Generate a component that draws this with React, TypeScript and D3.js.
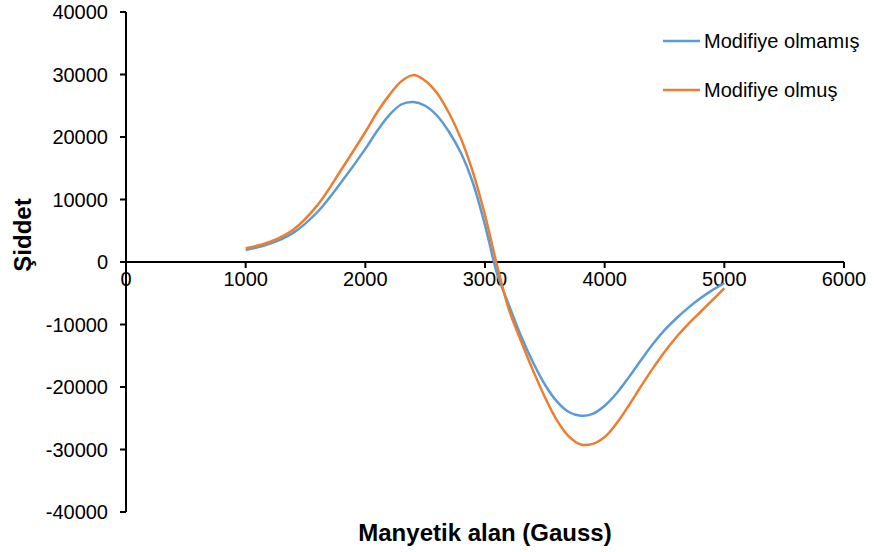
import React from "react";
import * as d3 from "d3";

const fieldG = [1000, 1200, 1400, 1600, 1800, 2000, 2100, 2200, 2300, 2400, 2500, 2600, 2700, 2800, 2900, 3000, 3100, 3200, 3300, 3400, 3500, 3600, 3700, 3800, 3900, 4000, 4100, 4200, 4300, 4400, 4500, 4600, 4700, 4800, 4900, 5000];
const unmodified = [1900, 2900, 4700, 8000, 12800, 18100, 21000, 23500, 25200, 25600, 25000, 23400, 20800, 17400, 12600, 5900, -1800, -6900, -11800, -16000, -19600, -22300, -24000, -24600, -24300, -23000, -21000, -18500, -15800, -13200, -10900, -9000, -7300, -5800, -4500, -3400];
const modified = [2200, 3200, 5200, 9100, 14800, 20800, 24000, 26700, 28900, 29900, 29000, 27000, 23800, 19700, 14300, 7500, -500, -7600, -12600, -17300, -21600, -25300, -27900, -29200, -29100, -28000, -25800, -23000, -20000, -17100, -14400, -12000, -9900, -8000, -6100, -4200];
const xTicks = [0, 1000, 2000, 3000, 4000, 5000, 6000];
const yTicks = [-40000, -30000, -20000, -10000, 0, 10000, 20000, 30000, 40000];
const seriesNames = ["Modifiye olmamış", "Modifiye olmuş"];
const colors = ["#5B9BD5", "#ED7D31"];

export default function App() {
  const W = 874, H = 552;
  const x = d3.scaleLinear().domain([0, 6000]).range([126, 844]);
  const y = d3.scaleLinear().domain([-40000, 40000]).range([512, 12]);
  const line = d3
    .line<[number, number]>()
    .x((d) => x(d[0]))
    .y((d) => y(d[1]))
    .curve(d3.curveCatmullRom.alpha(0.5));
  const series = [unmodified, modified].map((vals) => fieldG.map((g, i) => [g, vals[i]] as [number, number]));
  const font = "Arial, 'Liberation Sans', sans-serif";
  return (
    <svg width={W} height={H} style={{ position: "absolute", left: 0, top: 0, background: "#fff" }} fontFamily={font}>
      <line x1={x(0)} x2={x(0)} y1={y(40000)} y2={y(-40000)} stroke="#000" strokeWidth={2} />
      {yTicks.map((t) => (
        <g key={t}>
          <line x1={x(0) - 6} x2={x(0)} y1={y(t)} y2={y(t)} stroke="#000" strokeWidth={2} />
          <text x={108} y={y(t)} dy="0.35em" textAnchor="end" fontSize={20} fill="#000">
            {t}
          </text>
        </g>
      ))}
      <line x1={x(0)} x2={x(6000)} y1={y(0)} y2={y(0)} stroke="#000" strokeWidth={2} />
      {xTicks.map((t) => (
        <g key={t}>
          <line x1={x(t)} x2={x(t)} y1={y(0)} y2={y(0) + 6} stroke="#000" strokeWidth={2} />
          <text x={x(t)} y={286} textAnchor="middle" fontSize={20} fill="#000">
            {t}
          </text>
        </g>
      ))}
      {series.map((s, i) => (
        <path key={i} d={line(s) || ""} fill="none" stroke={colors[i]} strokeWidth={2.5} />
      ))}
      {seriesNames.map((n, i) => (
        <g key={n} transform={`translate(0, ${41 + i * 49})`}>
          <line x1={663} x2={700} y1={0} y2={0} stroke={colors[i]} strokeWidth={2.5} />
          <text x={704} y={0} dy="0.35em" fontSize={20} fill="#000">
            {n}
          </text>
        </g>
      ))}
      <text x={485} y={541} textAnchor="middle" fontSize={24} fontWeight="bold" fill="#000">
        Manyetik alan (Gauss)
      </text>
      <text transform={`translate(31, 235) rotate(-90)`} textAnchor="middle" fontSize={24} fontWeight="bold" fill="#000">
        Şiddet
      </text>
    </svg>
  );
}
